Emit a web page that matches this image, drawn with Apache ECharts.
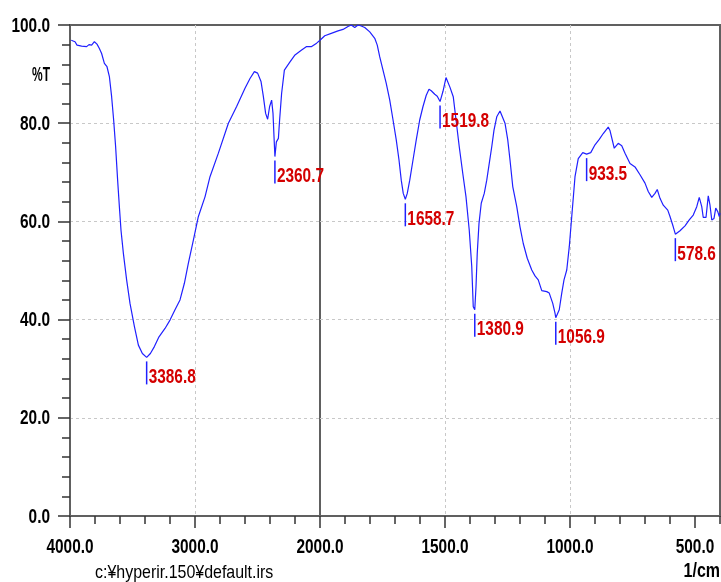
<!DOCTYPE html>
<html>
<head>
<meta charset="utf-8">
<script src="https://cdn.jsdelivr.net/npm/echarts@6/dist/echarts.min.js"></script>
<style>
  html, body { margin: 0; padding: 0; background: #fff; }
  #chart { width: 721px; height: 582px; }
</style>
</head>
<body>
<div id="chart"></div>
<script>
// IR spectrum, 4000–2000 cm-1 (compressed scale)
const wavenumbersHigh = [3990, 3981, 3960, 3944, 3928, 3907, 3893, 3867, 3848, 3827, 3805, 3784, 3765, 3747, 3725, 3704, 3685, 3667, 3651, 3635, 3619, 3605, 3592, 3573, 3547, 3520, 3485, 3453, 3421, 3386.8, 3357, 3325, 3288, 3240, 3200, 3160, 3120, 3085, 3053, 3013, 2973, 2920, 2880, 2813, 2733, 2667, 2600, 2560, 2525, 2499, 2472, 2453, 2435, 2419, 2403, 2387, 2376, 2368, 2360.7, 2349, 2333, 2323, 2307, 2285, 2240, 2200, 2147, 2107, 2067, 2027, 2000];
const transmittanceHigh = [96.9, 96.8, 96.6, 95.9, 96.1, 95.7, 95.5, 95.6, 96.0, 95.9, 96.6, 96.1, 95.2, 94.2, 92.2, 91.5, 89.5, 85.4, 80.7, 75.2, 68.4, 63.0, 58.2, 53.5, 48.1, 43.3, 38.6, 34.8, 33.1, 32.3, 33.1, 34.5, 36.5, 38.2, 39.9, 42.0, 44.0, 47.4, 51.5, 56.2, 61.0, 65.0, 69.1, 73.9, 80.0, 83.4, 87.1, 89.1, 90.5, 90.2, 88.5, 85.4, 82.0, 80.8, 83.4, 84.7, 82.0, 77.3, 73.2, 76.2, 76.9, 80.7, 86.1, 90.8, 92.5, 93.9, 94.9, 95.6, 95.6, 96.3, 96.9];

// IR spectrum, 2000–400 cm-1 (expanded scale)
const wavenumbersLow = [2000, 1981, 1955, 1928, 1908, 1888, 1875, 1861, 1848, 1835, 1821, 1801, 1781, 1771, 1761, 1748, 1735, 1721, 1708, 1695, 1684, 1675, 1667, 1658.7, 1651, 1641, 1628, 1615, 1601, 1588, 1575, 1564, 1555, 1541, 1531, 1519.8, 1508, 1496, 1480, 1467, 1456, 1443, 1429, 1416, 1403, 1393, 1387, 1380.9, 1376, 1371, 1364, 1355, 1343, 1333, 1323, 1313, 1304, 1293, 1280, 1272, 1260, 1249, 1240, 1229, 1213, 1200, 1187, 1171, 1153, 1140, 1127, 1113, 1093, 1083, 1069, 1060, 1056.9, 1043, 1033, 1024, 1013, 1003, 993, 980, 967, 949, 933.5, 917, 900, 883, 867, 847, 840, 823, 807, 793, 780, 760, 740, 720, 700, 687, 673, 660, 651, 640, 627, 609, 600, 587, 578.6, 560, 540, 523, 507, 493, 483, 473, 467, 456, 447, 440, 433, 424, 417, 409, 403, 400];
const transmittanceLow = [96.9, 97.8, 98.3, 98.8, 99.1, 99.7, 100.0, 99.5, 100.0, 99.8, 99.5, 98.6, 97.3, 95.9, 93.5, 90.8, 88.1, 84.7, 80.7, 76.6, 72.5, 68.4, 65.7, 64.5, 65.7, 68.4, 72.5, 76.6, 80.7, 83.4, 85.7, 86.9, 86.6, 85.9, 85.5, 84.4, 86.5, 89.3, 87.3, 85.4, 80.7, 75.2, 69.8, 65.0, 58.2, 50.8, 42.6, 42.0, 46.7, 53.5, 59.6, 63.7, 65.7, 68.4, 71.8, 75.2, 78.6, 81.3, 82.5, 82.3, 80.0, 76.6, 72.5, 67.1, 63.0, 58.9, 55.5, 52.5, 50.1, 48.9, 48.1, 45.9, 45.7, 45.4, 43.3, 41.3, 40.4, 42.0, 45.4, 48.1, 50.1, 54.8, 61.0, 69.1, 72.8, 74.0, 73.7, 74.0, 75.6, 76.7, 77.9, 79.2, 78.5, 74.9, 75.9, 75.4, 73.9, 71.8, 71.1, 69.5, 67.8, 66.1, 64.9, 65.7, 66.5, 64.7, 63.3, 62.3, 61.0, 58.9, 57.4, 58.1, 59.1, 60.3, 61.3, 63.0, 64.9, 63.0, 60.8, 60.8, 65.2, 63.3, 60.3, 60.6, 62.7, 62.0, 61.0, 61.7];

// Picked peaks
const peakWavenumbers = [3386.8, 2360.7, 1658.7, 1519.8, 1380.9, 1056.9, 933.5, 578.6];
const peakTransmittance = [32.3, 73.2, 64.5, 84.4, 42.0, 40.4, 73.7, 57.4];

// Tick values and labels
const yTicks = [0, 20, 40, 60, 80, 100];
const xLabelsHigh = [4000, 3000, 2000];
const xMajorLow = [500, 1000, 1500, 2000];
const xLabelsLow = [1500, 1000, 500];

const FONT = "'Liberation Sans', Arial, sans-serif";
const NARROW = 0.77;               // condensed look of the instrument font
const AXIS_COLOR = '#606060';
const CURVE_COLOR = '#2020ff';
const SPLIT = { show: true, showMinLine: false, showMaxLine: false, lineStyle: { color: '#c8c8c8', type: [3, 3], width: 1 } };
const TICK_STYLE = { color: '#333', width: 1.5 };

const pairs = (xs, ys) => xs.map((x, i) => [x, ys[i]]);
const highPeaks = [], lowPeaks = [];
peakWavenumbers.forEach((w, i) => (w >= 2000 ? highPeaks : lowPeaks).push([w, peakTransmittance[i]]));

// Peak marker: short vertical bar under the band with its wavenumber
function renderPeak(params, api) {
  const p = api.coord([api.value(0), api.value(1)]);
  const top = p[1] + 4, bottom = p[1] + 27;
  return {
    type: 'group',
    children: [
      { type: 'line', shape: { x1: p[0], y1: top, x2: p[0], y2: bottom }, style: { stroke: CURVE_COLOR, lineWidth: 1.5 } },
      { type: 'text', x: p[0] + 2, y: bottom - 7, scaleX: NARROW, style: {
          text: api.value(0).toFixed(1), fill: '#d40000', font: 'bold 20px ' + FONT,
          verticalAlign: 'middle', align: 'left' } }
    ]
  };
}

// Axis numbers in the narrow instrument style
function renderYLabel(params, api) {
  const p = api.coord([api.value(0), api.value(1)]);
  return { type: 'text', x: p[0] - 20, y: p[1] + 1, scaleX: NARROW, style: {
    text: api.value(1).toFixed(1), fill: '#000', font: 'bold 20px ' + FONT, align: 'right', verticalAlign: 'middle' } };
}
function renderXLabel(params, api) {
  const p = api.coord([api.value(0), api.value(1)]);
  return { type: 'text', x: p[0], y: p[1] + 31, scaleX: NARROW, style: {
    text: api.value(0).toFixed(1), fill: '#000', font: 'bold 20px ' + FONT, align: 'center', verticalAlign: 'middle' } };
}

const chart = echarts.init(document.getElementById('chart'), null, { renderer: 'canvas' });
chart.setOption({
  animation: false,
  backgroundColor: '#fff',
  grid: [
    { left: 70, top: 25, width: 250, height: 491, containLabel: false, outerBoundsMode: 'none',
      show: true, borderColor: AXIS_COLOR, borderWidth: 2, backgroundColor: 'transparent' },
    { left: 320, top: 25, width: 400, height: 491, containLabel: false, outerBoundsMode: 'none',
      show: true, borderColor: AXIS_COLOR, borderWidth: 2, backgroundColor: 'transparent' }
  ],
  xAxis: [
    { type: 'value', gridIndex: 0, min: 2000, max: 4000, interval: 1000, inverse: true, position: 'bottom',
      axisLine: { show: true, lineStyle: { color: AXIS_COLOR, width: 2 } },
      axisTick: { show: true, length: 12, lineStyle: TICK_STYLE },
      minorTick: { show: true, splitNumber: 5, length: 8, lineStyle: TICK_STYLE },
      axisLabel: { show: false },
      splitLine: SPLIT },
    { type: 'value', gridIndex: 1, min: 400, max: 2000, inverse: true, position: 'bottom',
      axisLine: { show: true, lineStyle: { color: AXIS_COLOR, width: 2 } },
      axisTick: { show: true, length: 12, customValues: xMajorLow, lineStyle: TICK_STYLE },
      axisLabel: { show: false },
      splitLine: SPLIT },
    { type: 'value', gridIndex: 1, min: 400, max: 2000, interval: 100, inverse: true, position: 'bottom',
      axisLine: { show: false },
      axisTick: { show: true, length: 8, lineStyle: TICK_STYLE },
      axisLabel: { show: false }, splitLine: { show: false } }
  ],
  yAxis: [
    { type: 'value', gridIndex: 0, min: 0, max: 100, interval: 20,
      axisLine: { show: true, lineStyle: { color: AXIS_COLOR, width: 2 } },
      axisTick: { show: true, length: 12, lineStyle: TICK_STYLE },
      minorTick: { show: true, splitNumber: 5, length: 8, lineStyle: TICK_STYLE },
      axisLabel: { show: false },
      splitLine: SPLIT },
    { type: 'value', gridIndex: 1, min: 0, max: 100, interval: 20,
      axisLine: { show: false }, axisTick: { show: false }, axisLabel: { show: false },
      splitLine: SPLIT }
  ],
  series: [
    { type: 'line', xAxisIndex: 0, yAxisIndex: 0, data: pairs(wavenumbersHigh, transmittanceHigh),
      showSymbol: false, lineStyle: { color: CURVE_COLOR, width: 1.2 }, z: 3 },
    { type: 'line', xAxisIndex: 1, yAxisIndex: 1, data: pairs(wavenumbersLow, transmittanceLow),
      showSymbol: false, lineStyle: { color: CURVE_COLOR, width: 1.2 }, z: 3 },
    { type: 'custom', xAxisIndex: 0, yAxisIndex: 0, data: highPeaks, renderItem: renderPeak, z: 4, clip: false },
    { type: 'custom', xAxisIndex: 1, yAxisIndex: 1, data: lowPeaks, renderItem: renderPeak, z: 4, clip: false },
    { type: 'custom', xAxisIndex: 0, yAxisIndex: 0, data: yTicks.map(v => [4000, v]), renderItem: renderYLabel, z: 5, clip: false, silent: true },
    { type: 'custom', xAxisIndex: 0, yAxisIndex: 0, data: xLabelsHigh.map(v => [v, 0]), renderItem: renderXLabel, z: 5, clip: false, silent: true },
    { type: 'custom', xAxisIndex: 1, yAxisIndex: 1, data: xLabelsLow.map(v => [v, 0]), renderItem: renderXLabel, z: 5, clip: false, silent: true }
  ],
  graphic: [
    { type: 'text', x: 32, y: 75, scaleX: 0.6, style: { text: '%T', font: 'bold 20px ' + FONT, fill: '#000', verticalAlign: 'middle' } },
    { type: 'text', x: 95, y: 573, scaleX: 0.84, style: { text: 'c:¥hyperir.150¥default.irs', font: '19px ' + FONT, fill: '#000', verticalAlign: 'middle' } },
    { type: 'text', x: 720, y: 571, scaleX: 0.8, style: { text: '1/cm', font: 'bold 20px ' + FONT, fill: '#000', align: 'right', verticalAlign: 'middle' } }
  ]
});
</script>
</body>
</html>
